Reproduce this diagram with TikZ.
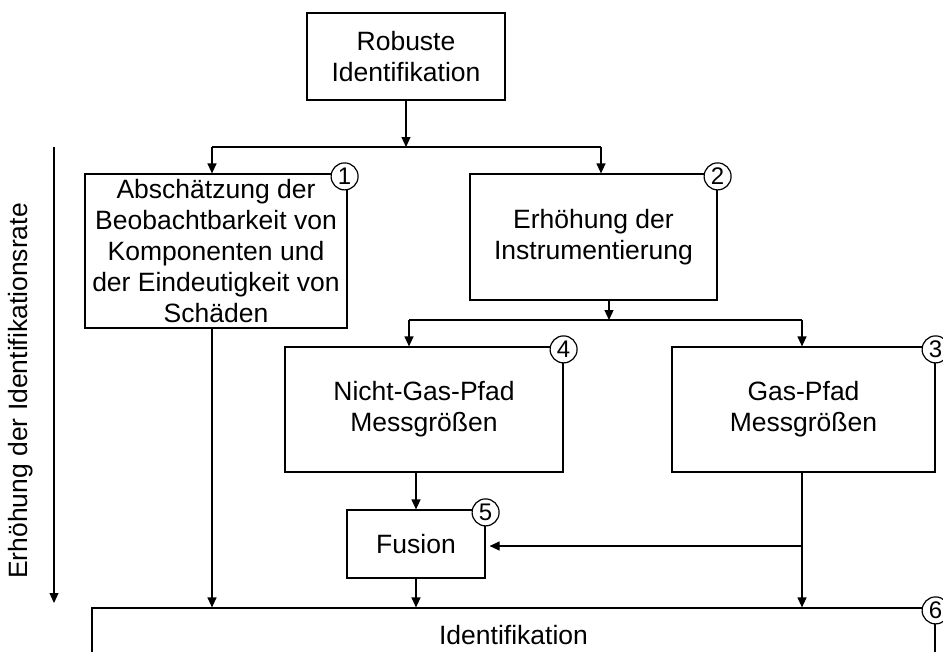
\documentclass[tikz,border=0pt]{standalone}
\usepackage{fontspec}
\setmainfont{Liberation Sans}
\usetikzlibrary{arrows.meta}

\begin{document}
\begin{tikzpicture}[x=1pt,y=-1pt,
        box/.style={draw,line width=1.2pt,align=center,inner sep=0pt,font=\fontsize{26.5}{31}\selectfont},
        num/.style={circle,draw,fill=white,line width=1.2pt,minimum size=27pt,inner sep=0pt,font=\fontsize{24}{24}\selectfont},
        line/.style={line width=1.2pt},
        arr/.style={line,-{Triangle[length=10pt,width=9pt]}},
        ]
    \useasboundingbox (0,0) rectangle (943,651);

    % boxes
    \node[box,minimum width=198pt,minimum height=87pt] (robust) at (406,56.5) {Robuste\\Identifikation};
    \node[box,minimum width=262pt,minimum height=154pt] (abs) at (216,251) {Abschätzung der\\Beobachtbarkeit von\\Komponenten und\\der Eindeutigkeit von\\Schäden};
    \node[box,minimum width=247pt,minimum height=126pt] (instr) at (593.5,237) {Erhöhung der\\Instrumentierung};
    \node[box,minimum width=278pt,minimum height=125pt] (ngp) at (424,409.5) {Nicht-Gas-Pfad\\Messgrößen};
    \node[box,minimum width=263pt,minimum height=125pt] (gp) at (803.5,409.5) {Gas-Pfad\\Messgrößen};
    \node[box,minimum width=138pt,minimum height=68pt] (fusion) at (416,544) {Fusion};
    \node[box,minimum width=843pt,minimum height=54pt] (ident) at (513.5,635) {Identifikation};

    % numbers
    \node[num] (n1) at ([xshift=-3pt,yshift=-3pt]abs.north east) {1};
    \node[num] (n2) at ([yshift=-3pt]instr.north east) {2};
    \node[num] (n3) at ([yshift=-3pt]gp.north east) {3};
    \node[num] (n4) at ([yshift=-3pt]ngp.north east) {4};
    \node[num] (n5) at ([yshift=-3pt]fusion.north east) {5};
    \node[num] (n6) at ([yshift=-3pt]ident.north east) {6};

    % forks
    \coordinate (top fork) at (406,147);
    \coordinate (fork l) at (212,147);
    \coordinate (fork r) at (601,147);
    \coordinate (mid fork) at (609,320);
    \coordinate (fork ngp) at (409,320);
    \coordinate (fork gp) at (802,320);
    \coordinate (fus in) at (416,472);
    \coordinate (tap) at (802,546);

    \draw[arr] (robust.south) -- (top fork);
    \draw[line] (fork l) -- (fork r);
    \draw[arr] (fork l) -- (fork l |- abs.north);
    \draw[arr] (fork r) -- (fork r |- instr.north);

    \draw[arr] (mid fork |- instr.south) -- (mid fork);
    \draw[line] (fork ngp) -- (fork gp);
    \draw[arr] (fork ngp) -- (fork ngp |- ngp.north);
    \draw[arr] (fork gp) -- (fork gp |- gp.north);

    \draw[arr] (fus in) -- (fus in |- fusion.north);
    \draw[line] (tap |- gp.south) -- (tap);
    \draw[arr,shorten >=4pt] (tap) -- (tap -| fusion.east);

    \draw[arr] (fork l |- abs.south) -- (fork l |- ident.north);
    \draw[arr] (fus in |- fusion.south) -- (fus in |- ident.north);
    \draw[arr] (tap) -- (tap |- ident.north);

    % rate axis
    \coordinate (rate top) at (54,147);
    \coordinate (rate end) at (54,603);
    \draw[arr] (rate top) -- (rate end);
    \node[rotate=90,font=\fontsize{26.5}{31}\selectfont] (rate) at (21,391) {Erhöhung der Identifikationsrate};
\end{tikzpicture}
\end{document}
